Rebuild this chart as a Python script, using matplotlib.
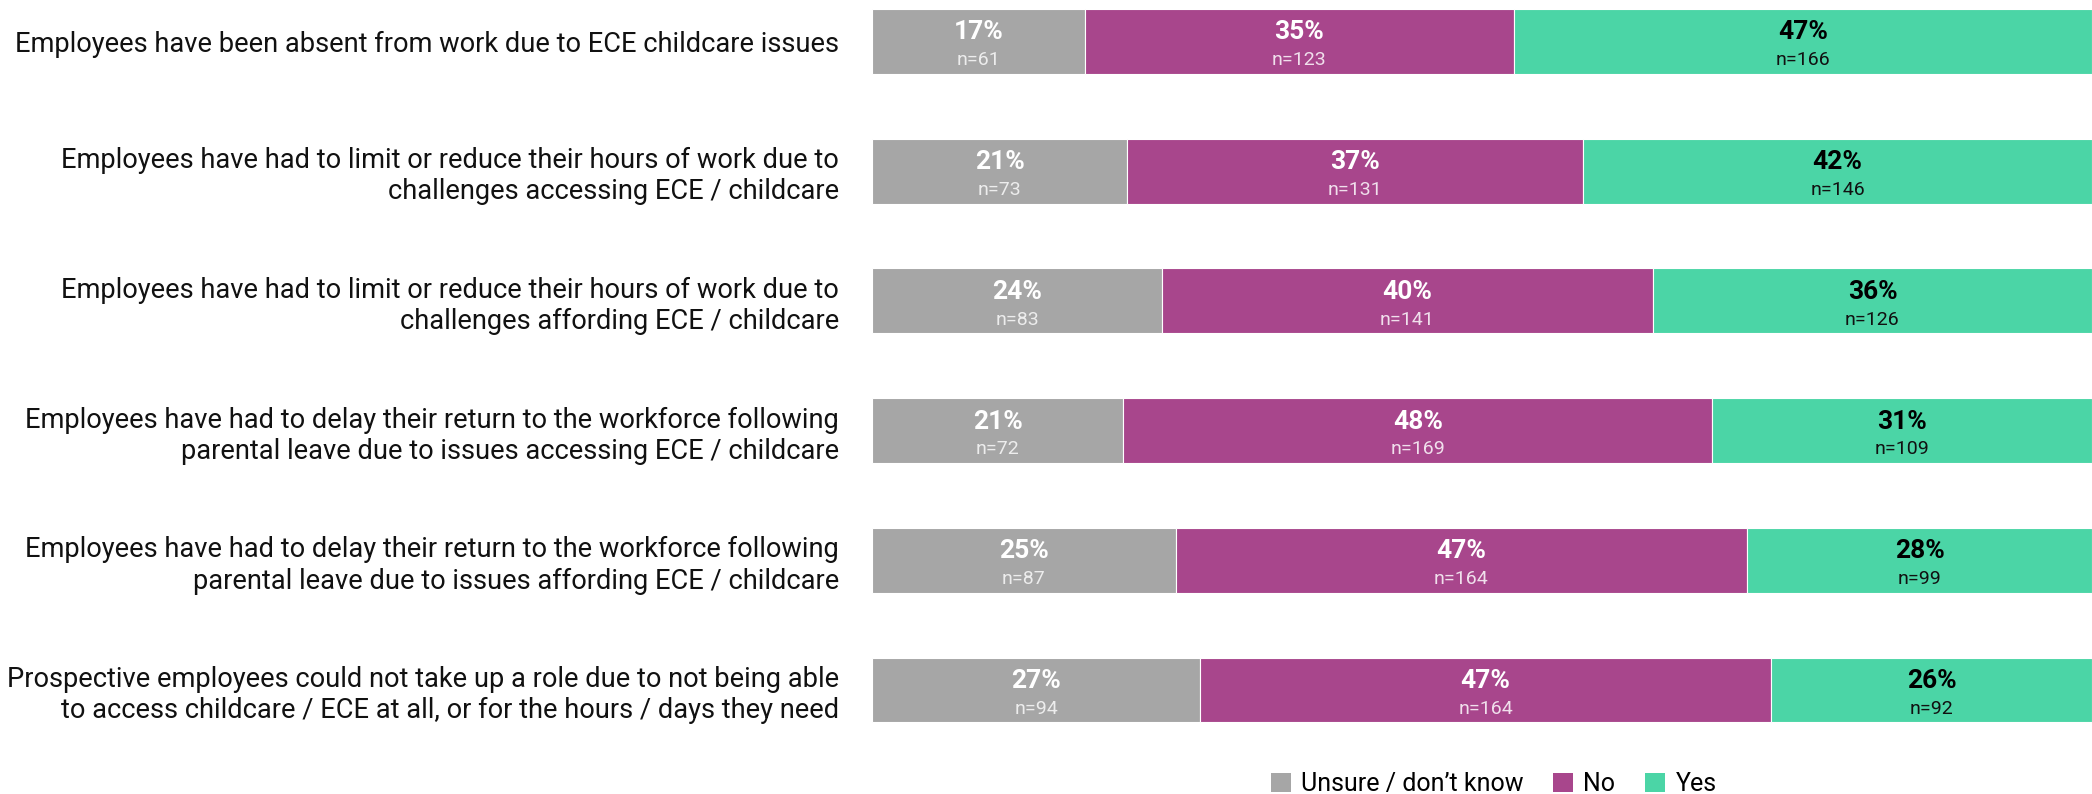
import matplotlib.pyplot as plt
from matplotlib.patches import Patch

plt.rcParams['font.family'] = ['Roboto', 'DejaVu Sans']

questions = [
    "Employees have been absent from work due to ECE childcare issues",
    "Employees have had to limit or reduce their hours of work due to\nchallenges accessing ECE / childcare",
    "Employees have had to limit or reduce their hours of work due to\nchallenges affording ECE / childcare",
    "Employees have had to delay their return to the workforce following\nparental leave due to issues accessing ECE / childcare",
    "Employees have had to delay their return to the workforce following\nparental leave due to issues affording ECE / childcare",
    "Prospective employees could not take up a role due to not being able\nto access childcare / ECE at all, or for the hours / days they need",
]
unsure_n = [61, 73, 83, 72, 87, 94]
no_n = [123, 131, 141, 169, 164, 164]
yes_n = [166, 146, 126, 109, 99, 92]
unsure_pct = [17, 21, 24, 21, 25, 27]
no_pct = [35, 37, 40, 48, 47, 47]
yes_pct = [47, 42, 36, 31, 28, 26]

series = [
    ("Unsure / don\u2019t know", unsure_n, unsure_pct, '#A6A6A6', 'white', '#EDEDED'),
    ("No", no_n, no_pct, '#A8468C', 'white', '#F0E0EC'),
    ("Yes", yes_n, yes_pct, '#4BD5A6', 'black', '#111111'),
]

fig = plt.figure(figsize=(20.92, 7.94), dpi=100)
ax = fig.add_axes([0.417, 0.033, 0.583, 0.967])

totals = [u + n + y for u, n, y in zip(unsure_n, no_n, yes_n)]
left = [0.0] * len(questions)
ypos = list(range(len(questions)))
for name, counts, pcts, color, pc, nc in series:
    widths = [c / t for c, t in zip(counts, totals)]
    ax.barh(ypos, widths, left=left, height=0.5, color=color, edgecolor='white', linewidth=0.8)
    for i, w in enumerate(widths):
        cx = left[i] + w / 2
        ax.text(cx, i - 0.07, f"{pcts[i]}%", ha='center', va='center',
                fontsize=19, fontweight='bold', color=pc)
        ax.text(cx, i + 0.145, f"n={counts[i]}", ha='center', va='center',
                fontsize=14, color=nc)
    left = [l + w for l, w in zip(left, widths)]

ax.set_xlim(0, 1)
ax.set_ylim(5.6, -0.32)
ax.set_yticks(ypos)
ax.set_yticklabels(questions, fontsize=19.6, color='#111111')
ax.tick_params(axis='y', length=0, pad=24)
ax.tick_params(axis='x', bottom=False, labelbottom=False)
for s in ax.spines.values():
    s.set_visible(False)

handles = [Patch(facecolor=c, label=n) for n, _, _, c, _, _ in series]
fig.legend(handles=handles, loc='center', bbox_to_anchor=(0.714, 0.012), ncol=3,
           frameon=False, fontsize=18, handlelength=0.8, handleheight=0.8,
           handletextpad=0.4, columnspacing=1.2)

fig.savefig('out.png', dpi=100, facecolor='white')
